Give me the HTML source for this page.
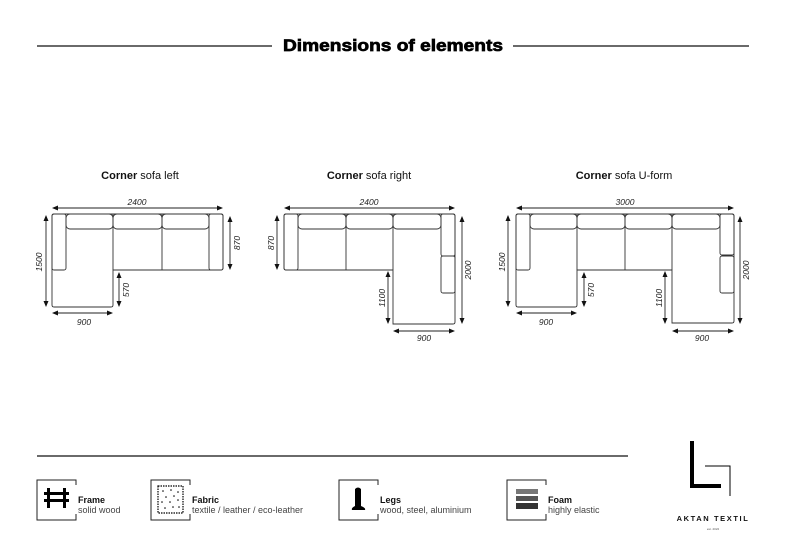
<!DOCTYPE html>
<html><head><meta charset="utf-8"><style>
html,body{margin:0;padding:0;background:#fff;}
svg{display:block;font-family:"Liberation Sans",sans-serif;}
</style></head><body>
<svg width="788" height="557" viewBox="0 0 788 557" xmlns="http://www.w3.org/2000/svg">
<defs>
<marker id="a" markerWidth="6" markerHeight="6" refX="5" refY="3" orient="auto-start-reverse" markerUnits="userSpaceOnUse"><path d="M0,0.5 L6,3 L0,5.5z" fill="#111"/></marker>
</defs>
<line x1="37" y1="46" x2="272" y2="46" stroke="#111" stroke-width="1.3"/>
<line x1="513" y1="46" x2="749" y2="46" stroke="#111" stroke-width="1.3"/>
<text x="283" y="51" font-size="17" font-weight="bold" textLength="220" lengthAdjust="spacingAndGlyphs" fill="#000" stroke="#000" stroke-width="0.7">Dimensions of elements</text>

<g font-size="11" fill="#111">
<text x="140" y="179" text-anchor="middle"><tspan font-weight="bold">Corner</tspan> sofa left</text>
<text x="369" y="179" text-anchor="middle"><tspan font-weight="bold">Corner</tspan> sofa right</text>
<text x="624" y="179" text-anchor="middle"><tspan font-weight="bold">Corner</tspan> sofa U-form</text>
</g>

<g fill="none" stroke="#333" stroke-width="0.9">
<path d="M54,214 H221 Q223,214 223,216 V268 Q223,270 221,270 H113 V305 Q113,307 111,307 H54 Q52,307 52,305 V216 Q52,214 54,214z"/>
<rect x="52" y="214" width="14" height="56" rx="2"/>
<rect x="209" y="214" width="14" height="56" rx="2"/>
<rect x="66" y="214" width="47" height="15" rx="4"/>
<rect x="113" y="214" width="49" height="15" rx="4"/>
<rect x="162" y="214" width="47" height="15" rx="4"/>
<path d="M113,214 V270 M162,214 V270"/>
<path d="M286,214 H453 Q455,214 455,216 V322 Q455,324 453,324 H393 V270 H286 Q284,270 284,268 V216 Q284,214 286,214z"/>
<rect x="284" y="214" width="14" height="56" rx="2"/>
<rect x="441" y="214" width="14" height="42" rx="2"/>
<rect x="441" y="256" width="14" height="37" rx="2"/>
<rect x="298" y="214" width="48" height="15" rx="4"/>
<rect x="346" y="214" width="47" height="15" rx="4"/>
<rect x="393" y="214" width="48" height="15" rx="4"/>
<path d="M346,214 V270 M393,214 V270"/>
<path d="M518,214 H732 Q734,214 734,216 V321 Q734,323 732,323 H672 V270 H577 V305 Q577,307 575,307 H518 Q516,307 516,305 V216 Q516,214 518,214z"/>
<rect x="516" y="214" width="14" height="56" rx="2"/>
<rect x="720" y="214" width="14" height="41" rx="2"/>
<rect x="720" y="256" width="14" height="37" rx="2"/>
<rect x="530" y="214" width="47" height="15" rx="4"/>
<rect x="577" y="214" width="48" height="15" rx="4"/>
<rect x="625" y="214" width="47" height="15" rx="4"/>
<rect x="672" y="214" width="48" height="15" rx="4"/>
<path d="M577,214 V270 M625,214 V270 M672,214 V270"/>
</g>

<g stroke="#222" stroke-width="0.9" marker-start="url(#a)" marker-end="url(#a)">
<line x1="53" y1="208" x2="222" y2="208"/>
<line x1="46" y1="216" x2="46" y2="306"/>
<line x1="230" y1="217" x2="230" y2="269"/>
<line x1="119" y1="273" x2="119" y2="306"/>
<line x1="53" y1="313" x2="112" y2="313"/>
<line x1="285" y1="208" x2="454" y2="208"/>
<line x1="277" y1="216" x2="277" y2="269"/>
<line x1="388" y1="272" x2="388" y2="323"/>
<line x1="462" y1="217" x2="462" y2="323"/>
<line x1="394" y1="331" x2="454" y2="331"/>
<line x1="517" y1="208" x2="733" y2="208"/>
<line x1="508" y1="216" x2="508" y2="306"/>
<line x1="584" y1="273" x2="584" y2="306"/>
<line x1="665" y1="272" x2="665" y2="323"/>
<line x1="740" y1="217" x2="740" y2="323"/>
<line x1="517" y1="313" x2="576" y2="313"/>
<line x1="673" y1="331" x2="733" y2="331"/>
</g>
<g font-size="8.5" font-style="italic" fill="#222" text-anchor="middle">
<text x="137" y="205">2400</text>
<text x="84" y="325">900</text>
<text transform="translate(42,262) rotate(-90)">1500</text>
<text transform="translate(240,243) rotate(-90)">870</text>
<text transform="translate(129,290) rotate(-90)">570</text>
<text x="369" y="205">2400</text>
<text x="424" y="341">900</text>
<text transform="translate(274,243) rotate(-90)">870</text>
<text transform="translate(385,298) rotate(-90)">1100</text>
<text transform="translate(471,270) rotate(-90)">2000</text>
<text x="625" y="205">3000</text>
<text x="546" y="325">900</text>
<text x="702" y="341">900</text>
<text transform="translate(505,262) rotate(-90)">1500</text>
<text transform="translate(594,290) rotate(-90)">570</text>
<text transform="translate(662,298) rotate(-90)">1100</text>
<text transform="translate(749,270) rotate(-90)">2000</text>
</g>

<line x1="37" y1="456" x2="628" y2="456" stroke="#111" stroke-width="1.3"/>

<g fill="none" stroke="#222" stroke-width="1">
<path d="M76,485 V480 H37 V520 H76 V514"/>
<path d="M190,485 V480 H151 V520 H190 V514"/>
<path d="M378,485 V480 H339 V520 H378 V514"/>
<path d="M546,485 V480 H507 V520 H546 V514"/>
</g>
<g fill="#000">
<rect x="47" y="488" width="3" height="20"/><rect x="63" y="488" width="3" height="20"/>
<rect x="44" y="492" width="25" height="3"/><rect x="44" y="499" width="25" height="3"/>
</g>
<rect x="158" y="486" width="25" height="27" fill="none" stroke="#000" stroke-width="1.2" stroke-dasharray="1.5 1"/>
<g fill="#000">
<circle cx="163" cy="491" r="0.8"/><circle cx="171" cy="490" r="0.8"/><circle cx="178" cy="492" r="0.8"/>
<circle cx="166" cy="497" r="0.8"/><circle cx="174" cy="496" r="0.8"/><circle cx="162" cy="502" r="0.8"/>
<circle cx="170" cy="502" r="0.8"/><circle cx="178" cy="500" r="0.8"/><circle cx="165" cy="508" r="0.8"/>
<circle cx="173" cy="507" r="0.8"/><circle cx="179" cy="507" r="0.8"/>
</g>
<path d="M355,489 Q358,486 361,489 V506 Q366,508 365,510 H352 Q351,508 355,506z" fill="#000"/>
<rect x="516" y="489" width="22" height="5" fill="#777"/>
<rect x="516" y="496" width="22" height="5" fill="#555"/>
<rect x="516" y="503" width="22" height="6" fill="#333"/>

<g font-size="9" fill="#111">
<text x="78" y="503" font-weight="bold">Frame</text><text x="78" y="513" fill="#444">solid wood</text>
<text x="192" y="503" font-weight="bold">Fabric</text><text x="192" y="513" fill="#444">textile / leather / eco-leather</text>
<text x="380" y="503" font-weight="bold">Legs</text><text x="380" y="513" fill="#444">wood, steel, aluminium</text>
<text x="548" y="503" font-weight="bold">Foam</text><text x="548" y="513" fill="#444">highly elastic</text>
</g>

<path d="M690,441 H694 V484 H721 V488 H690z" fill="#000"/>
<path d="M705,466 H730 V496" fill="none" stroke="#000" stroke-width="1"/>
<text x="713" y="521" font-size="7.5" font-weight="bold" letter-spacing="1.6" text-anchor="middle" fill="#111">AKTAN TEXTIL</text>
<text x="713" y="530" font-size="3" text-anchor="middle" fill="#555">est. 2022</text>
</svg>
</body></html>
